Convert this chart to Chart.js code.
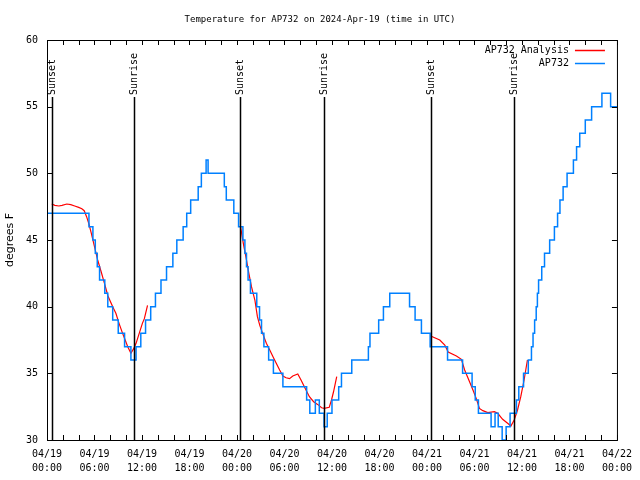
<!DOCTYPE html>
<html>
<head>
<meta charset="utf-8">
<title>Temperature for AP732</title>
<script src="https://cdn.jsdelivr.net/npm/chart.js@4.4.1/dist/chart.umd.min.js"></script>
<style>
    html, body { margin: 0; padding: 0; background: #fff; }
    #chart { display: block; }
</style>
</head>
<body>
<canvas id="chart" width="640" height="480"></canvas>
<script>
// All times are hours since 04/19 00:00 UTC

// x axis labels, one every 6 hours
const tickLabels = [
    ['04/19', '00:00'], ['04/19', '06:00'], ['04/19', '12:00'], ['04/19', '18:00'],
    ['04/20', '00:00'], ['04/20', '06:00'], ['04/20', '12:00'], ['04/20', '18:00'],
    ['04/21', '00:00'], ['04/21', '06:00'], ['04/21', '12:00'], ['04/21', '18:00'],
    ['04/22', '00:00']
];

// sunrise / sunset markers
const sunHours = [0.63, 11.02, 24.42, 34.94, 48.46, 58.98];
const sunLabels = ['Sunset', 'Sunrise', 'Sunset', 'Sunrise', 'Sunset', 'Sunrise'];

// station reading: time at which the reading changes, and the new reading (deg F)
const stationHours = [0, 5.3, 5.8, 6.1, 6.35, 6.64, 7.3, 7.68, 8.3, 9.0, 9.8,
    10.6, 11.25, 11.85, 12.45, 13.1, 13.7, 14.4, 15.1, 15.9, 16.4,
    17.2, 17.65, 18.15, 19.1, 19.5, 20.1, 20.35, 22.4, 22.65, 23.6,
    24.2, 24.75, 25.0, 25.2, 25.4, 25.7, 26.5, 26.85, 27.1, 27.4,
    28.0, 28.6, 29.8, 32.8, 33.2, 33.9, 34.4, 35.0, 35.4, 36.0,
    36.85, 37.2, 38.5, 40.6, 40.8, 41.9, 42.5, 43.3, 45.8, 46.5,
    47.3, 48.4, 50.6, 52.5, 53.7, 54.1, 54.5, 56.1, 56.6, 57.0,
    57.5, 58.0, 58.5, 59.3, 59.6, 60.2, 60.8, 61.2, 61.4, 61.6,
    61.8, 61.95, 62.1, 62.5, 62.85, 63.5, 64.1, 64.5, 64.8, 65.2,
    65.7, 66.5, 66.9, 67.3, 68.0, 68.8, 70.1, 71.2, 72];
const stationTemps = [47, 46, 45, 44, 43, 42, 41, 40, 39, 38, 37,
    36, 37, 38, 39, 40, 41, 42, 43, 44, 45,
    46, 47, 48, 49, 50, 51, 50, 49, 48, 47,
    46, 45, 44, 43, 42, 41, 40, 39, 38, 37,
    36, 35, 34, 33, 32, 33, 32, 31, 32, 33,
    34, 35, 36, 37, 38, 39, 40, 41, 40, 39,
    38, 37, 36, 35, 34, 33, 32, 31, 32, 31,
    30, 31, 32, 33, 34, 35, 36, 37, 38, 39,
    40, 41, 42, 43, 44, 45, 46, 47, 48, 49,
    50, 51, 52, 53, 54, 55, 56, 55, 55];

// analysis curve, night-time only (null = gap)
const analysisHours = [0.6, 1.0, 1.5, 1.9, 2.5, 3.0, 3.5, 4.0, 4.4, 4.7,
    5.0, 5.3, 5.6, 6.0, 6.4, 6.85, 7.26, 7.7, 8.3, 8.7,
    9.1, 9.55, 10.2, 10.6, 10.95, 11.25, 11.65, 12.05, 12.3, 12.7,
    18,
    24.45, 24.8, 25.2, 25.5, 25.83, 26.26, 26.58, 26.88, 27.3, 27.71,
    28.14, 28.55, 28.96, 29.39, 29.8, 30.2, 30.64, 31.05, 31.68, 32.09,
    32.59, 33.15, 33.68, 34.19, 34.69, 35.02, 35.65, 35.94, 36.19, 36.6,
    42,
    48.46, 49.62, 50.25, 50.68, 51.72, 52.35, 52.76, 53.38, 53.81, 54.22,
    54.63, 55.06, 55.68, 56.51, 56.94, 57.56, 58.19, 58.6, 59.02, 59.44,
    59.85, 60.27, 60.69];
const analysisTemps = [47.7, 47.6, 47.55, 47.6, 47.7, 47.65, 47.55, 47.45, 47.35, 47.2,
    46.75, 46.2, 45.5, 44.5, 43.5, 42.6, 41.75, 40.8, 40.0, 39.5,
    38.75, 38.0, 37.0, 36.5, 36.85, 37.25, 38.0, 38.75, 39.1, 40.1,
    null,
    46.0, 44.75, 43.5, 42.5, 41.5, 40.5, 39.25, 38.6, 37.9, 37.25,
    36.75, 36.25, 35.75, 35.25, 34.8, 34.67, 34.6, 34.8, 34.95, 34.5,
    33.9, 33.25, 32.87, 32.67, 32.42, 32.37, 32.45, 33.0, 33.6, 34.75,
    null,
    37.8, 37.5, 37.12, 36.6, 36.3, 36.05, 35.25, 34.37, 33.75, 33.12,
    32.37, 32.2, 32.05, 32.12, 32.0, 31.55, 31.25, 31.05, 31.5, 32.25,
    33.25, 34.5, 36.0];

const MONO = '"DejaVu Sans Mono", monospace';

function toPoints(xs, ys) {
    return xs.map((h, i) => ({ x: h, y: ys[i] }));
}

// Border, inward ticks, sun markers and legend (gnuplot style)
const overlay = {
    id: 'overlay',
    afterDatasetsDraw(chart) {
        const { ctx, chartArea: a, scales: { x, y } } = chart;
        ctx.save();

        // sunrise / sunset lines
        ctx.fillStyle = '#000';
        ctx.strokeStyle = '#000';
        ctx.font = '10px ' + MONO;
        sunHours.forEach((h, i) => {
            const px = Math.round(x.getPixelForValue(h)) + 0.5;
            ctx.lineWidth = 1.5;
            ctx.beginPath();
            ctx.moveTo(px, a.top + 57);
            ctx.lineTo(px, a.bottom);
            ctx.stroke();
            ctx.save();
            ctx.translate(px, a.top + 55);
            ctx.rotate(-Math.PI / 2);
            ctx.textAlign = 'left';
            ctx.textBaseline = 'middle';
            ctx.fillText(sunLabels[i], 0, 0);
            ctx.restore();
        });

        // frame
        ctx.lineWidth = 1;
        ctx.strokeRect(a.left + 0.5, a.top + 0.5, a.width, a.height);

        // ticks
        ctx.beginPath();
        for (let h = 0; h <= 72; h += 2) {
            const px = Math.round(x.getPixelForValue(h)) + 0.5;
            ctx.moveTo(px, a.bottom); ctx.lineTo(px, a.bottom - 5);
            ctx.moveTo(px, a.top); ctx.lineTo(px, a.top + 5);
        }
        for (let v = 30; v <= 60; v += 5) {
            const py = Math.round(y.getPixelForValue(v)) + 0.5;
            ctx.moveTo(a.left, py); ctx.lineTo(a.left + 5, py);
            ctx.moveTo(a.right, py); ctx.lineTo(a.right - 5, py);
        }
        ctx.stroke();

        // legend (text then sample line, right aligned)
        chart.data.datasets.forEach((ds, i) => {
            const ly = a.top + 10 + i * 13;
            ctx.fillStyle = '#000';
            ctx.textAlign = 'right';
            ctx.textBaseline = 'middle';
            ctx.fillText(ds.label, a.right - 48, ly);
            ctx.strokeStyle = ds.borderColor;
            ctx.lineWidth = 1.5;
            ctx.beginPath();
            ctx.moveTo(a.right - 42, ly + 0.5);
            ctx.lineTo(a.right - 12, ly + 0.5);
            ctx.stroke();
        });
        ctx.restore();
    }
};

Chart.defaults.color = '#000';
Chart.defaults.font.family = MONO;

new Chart(document.getElementById('chart'), {
    type: 'line',
    data: {
        datasets: [{
            label: 'AP732 Analysis',
            data: toPoints(analysisHours, analysisTemps),
            borderColor: '#ff0000',
            borderWidth: 1.2,
            pointRadius: 0,
            order: 2
        }, {
            label: 'AP732',
            data: toPoints(stationHours, stationTemps),
            borderColor: '#0080ff',
            borderWidth: 1.5,
            pointRadius: 0,
            stepped: 'before',
            order: 1
        }]
    },
    options: {
        responsive: false,
        animation: false,
        devicePixelRatio: 1,
        layout: { padding: 0 },
        plugins: {
            legend: { display: false },
            tooltip: { enabled: false },
            title: {
                display: true,
                text: 'Temperature for AP732 on 2024-Apr-19 (time in UTC)',
                color: '#000',
                font: { family: MONO, size: 9, weight: 'normal', lineHeight: 1.3 },
                padding: { top: 14, bottom: 14.3 }
            }
        },
        scales: {
            x: {
                type: 'linear',
                min: 0,
                max: 72,
                grid: { display: false, drawTicks: false },
                border: { display: false },
                afterBuildTicks: (scale) => {
                    scale.ticks = tickLabels.map((_, i) => ({ value: i * 6 }));
                },
                afterFit: (scale) => { scale.height = 40; },
                ticks: {
                    autoSkip: false,
                    maxRotation: 0,
                    padding: 8,
                    font: { family: MONO, size: 10, lineHeight: 1.35 },
                    callback: (value) => tickLabels[Math.round(value / 6)]
                }
            },
            y: {
                min: 30,
                max: 60,
                grid: { display: false, drawTicks: false },
                border: { display: false },
                afterFit: (scale) => { scale.width = 47; },
                ticks: {
                    stepSize: 5,
                    padding: 9,
                    font: { family: MONO, size: 10 }
                },
                title: {
                    display: true,
                    text: 'degrees F',
                    font: { family: '"DejaVu Sans", sans-serif', size: 11 },
                    padding: { top: 4, bottom: 0 }
                }
            },
            // empty right-hand margin so the title stays centred on the page
            yRight: {
                position: 'right',
                min: 30,
                max: 60,
                grid: { display: false, drawTicks: false },
                border: { display: false },
                ticks: { display: false },
                afterFit: (scale) => { scale.width = 18; }
            }
        }
    },
    plugins: [overlay]
});
</script>
</body>
</html>
